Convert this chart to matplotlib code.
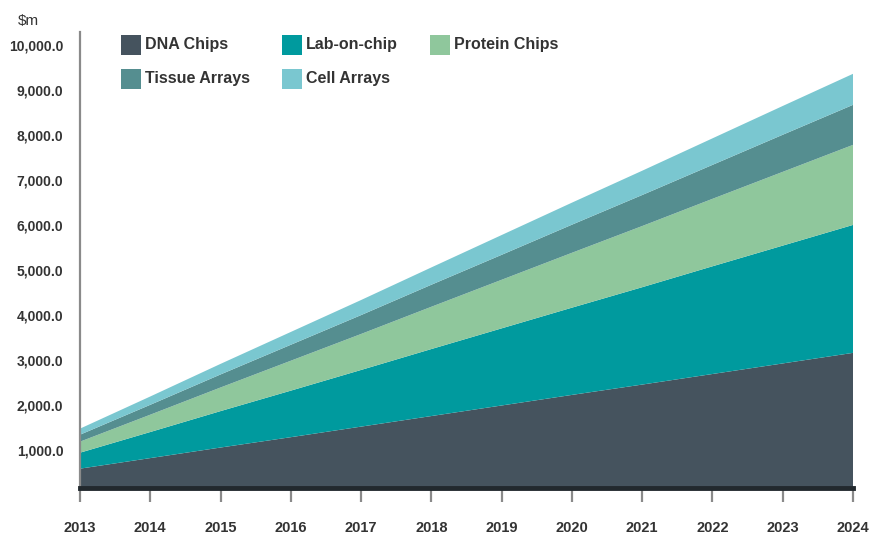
import matplotlib.pyplot as plt
from matplotlib.patches import Rectangle

# --- data ($m) ---
years = [2013, 2014, 2015, 2016, 2017, 2018, 2019, 2020, 2021, 2022, 2023, 2024]
dna_chips = [580, 815, 1050, 1280, 1515, 1750, 1985, 2220, 2450, 2685, 2920, 3155]
lab_on_chip = [355, 580, 810, 1035, 1260, 1490, 1715, 1940, 2165, 2395, 2620, 2845]
protein_chips = [245, 385, 525, 665, 800, 940, 1080, 1220, 1360, 1500, 1640, 1780]
tissue_arrays = [155, 220, 290, 355, 420, 490, 555, 625, 690, 755, 825, 890]
cell_arrays = [135, 185, 235, 285, 335, 385, 440, 490, 540, 590, 640, 690]

labels = ['DNA Chips', 'Lab-on-chip', 'Protein Chips', 'Tissue Arrays', 'Cell Arrays']
colors = ['#45535e', '#009a9e', '#8fc79c', '#558e90', '#7ac7d0']
y_ticks = [1000, 2000, 3000, 4000, 5000, 6000, 7000, 8000, 9000, 10000]

plt.rcParams['font.family'] = ['Liberation Sans', 'DejaVu Sans']
text_color = '#333333'

W, H = 874, 535
fig = plt.figure(figsize=(W / 100, H / 100), dpi=100)
ax = fig.add_axes([80 / W, 1 - 488 / H, (853 - 80) / W, (488 - 32) / H])

ax.stackplot(years, dna_chips, lab_on_chip, protein_chips, tissue_arrays, cell_arrays,
             colors=colors, linewidth=0)

ax.set_xlim(2013, 2024)
ax.set_ylim(150, 10290)

ax.set_xticks(years)
ax.set_xticklabels([str(y) for y in years], fontsize=10.5, fontweight='bold', color=text_color)
ax.set_yticks(y_ticks)
ax.set_yticklabels(['{:,.1f}'.format(v) for v in y_ticks], fontsize=10,
                   fontweight='bold', color=text_color)

ax.tick_params(axis='x', length=10, width=1.6, color='#8a8a8a', pad=14)
ax.tick_params(axis='y', length=0, pad=12)

for s in ['top', 'right']:
    ax.spines[s].set_visible(False)
ax.spines['left'].set_color('#8a8a8a')
ax.spines['left'].set_linewidth(1.6)
ax.spines['bottom'].set_color('#22292e')
ax.spines['bottom'].set_linewidth(3.5)
ax.spines['bottom'].set_zorder(5)

fig.text(18 / W, 1 - 21 / H, '$m', fontsize=11, color=text_color, va='center', ha='left')

# legend, laid out by hand in three columns
legend_pos = [(121, 45), (282, 45), (430, 45), (121, 79), (282, 79)]
for (lx, ly), lab, col in zip(legend_pos, labels, colors):
    fig.patches.append(Rectangle((lx / W, 1 - (ly + 10) / H), 20 / W, 20 / H,
                                 transform=fig.transFigure, facecolor=col, edgecolor='none'))
    fig.text((lx + 24) / W, 1 - ly / H, lab, fontsize=11.5, fontweight='bold',
             color=text_color, va='center', ha='left')

fig.savefig('out.png', dpi=100)
